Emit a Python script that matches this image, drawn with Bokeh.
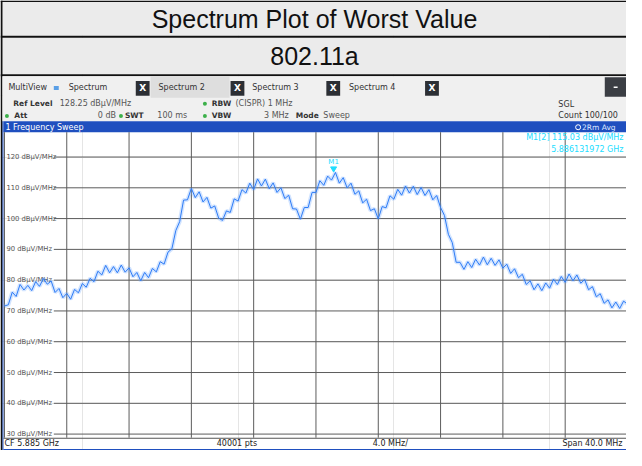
from bokeh.plotting import figure
from bokeh.models import Range1d
from bokeh.embed import file_html
from bokeh.resources import INLINE
from bokeh.core.properties import value

# ---------------- data ----------------
title_text = "Spectrum Plot of Worst Value"
subtitle_text = "802.11a"
start_mhz = 5865.0
span_mhz = 40.0
step_mhz = 0.25
level_dbuv = [
    71.6, 72.0, 76.1, 74.7, 78.6, 76.8, 78.3, 76.6, 79.5, 78.0,
    80.5, 78.7, 79.7, 76.0, 77.3, 74.3, 75.7, 73.8, 77.0, 75.9,
    78.9, 77.7, 80.6, 79.5, 82.9, 81.7, 84.8, 82.4, 84.4, 82.4,
    84.9, 82.6, 84.0, 81.1, 82.5, 79.8, 82.5, 80.8, 83.8, 82.7,
    86.0, 85.2, 89.1, 90.2, 96.1, 99.0, 106.0, 106.1, 109.8, 106.8,
    108.7, 105.4, 106.9, 103.4, 104.1, 100.2, 99.4, 102.5, 102.0, 106.4,
    105.7, 109.4, 108.3, 111.5, 109.4, 112.9, 110.6, 112.8, 109.7, 111.6,
    108.5, 110.0, 106.5, 107.6, 103.2, 103.1, 99.8, 103.6, 103.6, 108.5,
    108.5, 112.3, 110.8, 113.8, 112.5, 115.0, 111.5, 113.3, 110.0, 111.5,
    107.9, 109.0, 105.1, 106.3, 102.6, 103.2, 99.9, 103.9, 103.5, 107.4,
    106.3, 109.5, 107.6, 110.6, 108.3, 110.5, 107.8, 110.1, 107.5, 109.4,
    106.1, 107.5, 103.6, 101.0, 94.9, 92.2, 85.8, 85.8, 83.5, 86.0,
    84.1, 86.8, 84.9, 87.5, 85.0, 87.1, 84.8, 86.6, 83.9, 85.2,
    82.2, 83.7, 80.8, 81.9, 78.6, 79.8, 76.9, 78.8, 76.6, 79.1,
    77.4, 80.3, 78.6, 81.2, 79.3, 82.0, 79.8, 81.7, 79.0, 80.2,
    76.9, 77.9, 74.6, 75.6, 72.5, 73.6, 71.0, 72.9, 70.8, 73.2,
    72.2,
]
freq_mhz = [start_mhz + step_mhz * i for i in range(len(level_dbuv))]
freq_grid_mhz = [5865, 5869, 5873, 5877, 5881, 5885, 5889, 5893, 5897, 5901, 5905]
level_ticks = [120, 110, 100, 90, 80, 70, 60, 50, 40, 30]
level_tick_labels = ["120 dBµV/MHz", "110 dBµV/MHz", "100 dBµV/MHz", "90 dBµV/MHz",
                     "80 dBµV/MHz", "70 dBµV/MHz", "60 dBµV/MHz", "50 dBµV/MHz",
                     "40 dBµV/MHz", "30 dBµV/MHz"]
marker_freq_mhz = 5886.131972
marker_level = 115.03

# ---------------- layout (reference pixel space) ----------------
W, H = 626, 450
PX0, PX1, PY0, PY1 = 8, 642, 8, 466
plot_left, plot_right = 12, 643
y_top_tick, y_bot_tick = 167.3, 449.3
fpp = span_mhz / (plot_right - plot_left)
dpp = (level_ticks[0] - level_ticks[-1]) / (y_bot_tick - y_top_tick)

x_range = Range1d(start_mhz - (plot_left - PX0) * fpp, start_mhz + (PX1 - plot_left) * fpp)
y_range = Range1d(level_ticks[-1] - (PY1 - y_bot_tick) * dpp, level_ticks[0] + (y_top_tick - PY0) * dpp)

p = figure(width=W, height=H, x_range=x_range, y_range=y_range, title=None,
           output_backend="svg", toolbar_location=None, min_border=0,
           x_axis_location=None, y_axis_location=None, outline_line_color=None,
           background_fill_color="white", border_fill_color="white")
p.extra_x_ranges = {"px": Range1d(PX0, PX1)}
p.extra_y_ranges = {"py": Range1d(PY1, PY0)}

PXR = dict(x_range_name="px", y_range_name="py")


def box(l, r, t, b, color):
    p.quad(left=[l], right=[r], top=[t], bottom=[b], fill_color=color, line_color=None, **PXR)


def txt(x, y, s, size=8, color="#333333", align="left", bold=False, font="DejaVu Sans"):
    p.text([x], [y], text=[s], text_font=value(font), text_font_size=f"{size}px",
           text_color=color, text_align=align, text_baseline="middle",
           text_font_style="bold" if bold else "normal", **PXR)


# title table
box(8, 642, 8, 44, "#ebebeb")
box(8, 642, 46, 83, "#ebebeb")
box(8, 642, 44, 46, "#111111")
box(8, 642, 83, 85, "#111111")
box(8, 642, 8, 9.5, "#111111")
box(8, 10, 8, 466, "#111111")
txt(326, 27, title_text, size=25, color="#111111", align="center", font="Liberation Sans")
txt(326, 64, subtitle_text, size=25, color="#111111", align="center", font="Liberation Sans")

# instrument header
hs = 8
box(10, 642, 85, 131, "#f0f0f0")
box(160, 240, 85, 107, "#dedede")
txt(16, 97, "MultiView", hs, "#333333")
box(62, 67, 95, 99, "#5a9fe6")
txt(77, 97, "Spectrum", hs, "#333333")
txt(168, 97, "Spectrum 2", hs, "#333333")
txt(263, 97, "Spectrum 3", hs, "#333333")
txt(361, 97, "Spectrum 4", hs, "#333333")
for bl in (145, 241, 338, 438):
    box(bl, bl + 14, 90, 105, "#2c2f34")
    txt(bl + 7, 97.5, "X", 9, "white", align="center", bold=True)
box(620, 642, 86, 106, "#3b3e44")
box(629, 633, 95.5, 97, "white")

txt(21, 113, "Ref Level", 7.5, "#333333", bold=True)
txt(68, 113, "128.25 dBµV/MHz", hs, "#555555")
txt(222, 113, "RBW", 7.5, "#333333", bold=True)
txt(246, 113, "(CISPR) 1 MHz", hs, "#555555")
txt(573, 114, "SGL", hs, "#333333")

txt(22, 125.5, "Att", 7.5, "#333333", bold=True)
txt(125, 125.5, "0 dB", hs, "#555555", align="right")
txt(134, 125.5, "SWT", 7.5, "#333333", bold=True)
txt(197, 125.5, "100 ms", hs, "#555555", align="right")
txt(222, 125.5, "VBW", 7.5, "#333333", bold=True)
txt(300, 125.5, "3 MHz", hs, "#555555", align="right")
txt(307, 125.5, "Mode", 7.5, "#333333", bold=True)
txt(335, 125.5, "Sweep", hs, "#555555")
txt(573, 125.5, "Count 100/100", hs, "#333333")
p.scatter([215, 14.5, 130, 215], [113, 125.5, 125.5, 125.5], marker="circle", size=4,
          fill_color="#3cb04a", line_color=None, **PXR)

# blue bar
box(11, 642, 131, 142, "#1f4fbf")
txt(13, 137, "1 Frequency Sweep", 8, "white")
p.scatter([593], [137], marker="circle", size=5, fill_color=None, line_color="white", **PXR)
txt(597, 137, "2Rm Avg", 7.5, "#dfe8ff")

# plot frame
box(10, 11, 131, 466, "#1f4fbf")
box(11, 642, 453, 454, "#555555")
box(11, 642, 464.5, 466, "#1f4fbf")

# grid (data space)
n_v = len(freq_grid_mhz)
p.segment(x0=freq_grid_mhz, x1=freq_grid_mhz,
          y0=[level_ticks[-1] - (453 - y_bot_tick) * dpp] * n_v,
          y1=[level_ticks[0] + (y_top_tick - 142) * dpp] * n_v,
          line_color="#5c5c5c", line_width=1)
grid_x0 = x_range.start + (62 - PX0) * fpp
p.segment(x0=[grid_x0] * len(level_ticks), x1=[x_range.end] * len(level_ticks),
          y0=level_ticks, y1=level_ticks, line_color="#5c5c5c", line_width=1)
p.text(x=[x_range.start + (14 - PX0) * fpp] * len(level_ticks), y=level_ticks, text=level_tick_labels,
       text_font=value("DejaVu Sans"), text_font_size="6.8px", text_color="#555555",
       text_baseline="middle", text_align="left")

# trace
p.line(freq_mhz, level_dbuv, line_color="#6aa6ff", line_width=4, line_alpha=0.3)
p.line(freq_mhz, level_dbuv, line_color="#2e7cf6", line_width=1)

# marker
cyan = "#22ddff"
p.scatter([marker_freq_mhz], [marker_level + 1.2], marker="inverted_triangle", size=6,
          fill_color=cyan, line_color=cyan)
p.text([marker_freq_mhz], [marker_level], text=["M1"], y_offset=-10,
       text_font=value("DejaVu Sans"), text_font_size="7px", text_color=cyan,
       text_align="center", text_baseline="middle")
txt(639, 147.5, f"M1[2] {marker_level:.2f} dBµV/MHz", 8, cyan, align="right")
txt(639, 159.5, f"{marker_freq_mhz / 1000:.9f} GHz", 8, cyan, align="right")

# footer
txt(12, 459, f"CF {(start_mhz + span_mhz / 2) / 1000:.3f} GHz", 8, "#222222")
txt(227, 459, "40001 pts", 8, "#222222")
txt(385, 459, f"{span_mhz / 10:.1f} MHz/", 8, "#222222")
txt(638, 459, f"Span {span_mhz:.1f} MHz", 8, "#222222", align="right")

open("out.html", "w").write(file_html(p, INLINE))
